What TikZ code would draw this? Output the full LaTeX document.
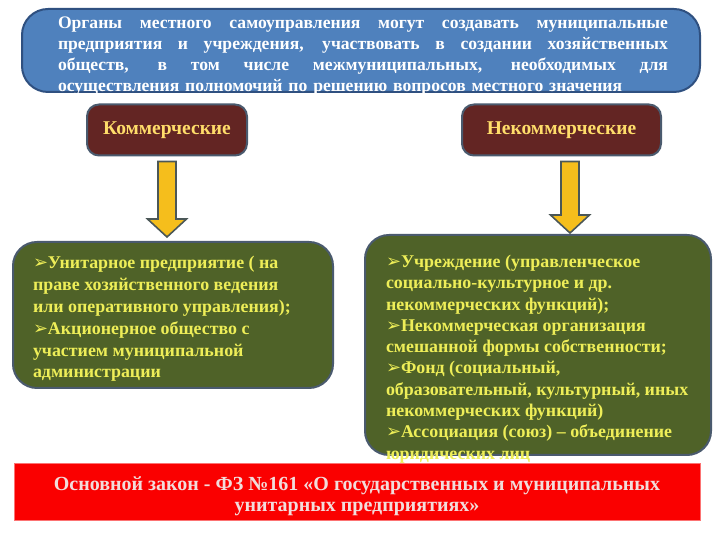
\documentclass[tikz,border=0pt]{standalone}
\usepackage{fontspec}
\setmainfont{Liberation Serif}
\newfontfamily\symfont{DejaVu Sans}
\usetikzlibrary{calc}
\definecolor{Sky}{HTML}{4F81BD}
\definecolor{SkyEdge}{HTML}{2F5080}
\definecolor{Wine}{HTML}{632523}
\definecolor{Moss}{HTML}{4F6228}
\definecolor{Steel}{HTML}{4A5A6E}
\definecolor{Gold}{HTML}{F5BE1C}
\definecolor{ArrowEdge}{HTML}{4B5757}
\definecolor{Sand}{HTML}{FFDD6A}
\definecolor{Lemon}{HTML}{EEEE58}
\definecolor{Signal}{HTML}{FA0000}
\definecolor{Blush}{HTML}{F2DCDB}
\newcommand{\bul}{{\symfont\char"27A2}}
\newcommand{\jline}[1]{\makebox[\hsize][s]{\spaceskip=0pt\xspaceskip=0pt\relax#1}}

\begin{document}
\begin{tikzpicture}[x=1pt,y=1pt,every node/.style={inner sep=0pt,outer sep=0pt},
  kindbox/.style={draw=Steel,line width=2pt,fill=Wine,rounded corners=12pt,minimum height=51pt,
    text=Sand,font=\bfseries\fontsize{19.5}{22}\selectfont},
  listbox/.style={draw=Steel,line width=2pt,fill=Moss,rounded corners=24pt},
  listtext/.style={anchor=north west,align=left,text=Lemon,font=\bfseries\fontsize{17.9}{#1}\selectfont},
  bigarrow/.style={draw=ArrowEdge,line width=1.6pt,fill=Gold,line join=miter}]
  \useasboundingbox (0,0) rectangle (720,540);
  \fill[white] (0,0) rectangle (720,540);

  \node[draw=SkyEdge,line width=2pt,fill=Sky,rounded corners=26pt,minimum width=678pt,minimum height=83pt] (head) at (361,489.5) {};
  \node[anchor=north west,text width=610pt,align=left,text=white,font=\bfseries\fontsize{17.6}{20.8}\selectfont] (headtext) at (58,523) {
    \jline{Органы местного самоуправления могут создавать муниципальные}\\
    \jline{предприятия и учреждения, участвовать в создании хозяйственных}\\
    \jline{обществ, в том числе межмуниципальных, необходимых для}\\
    осуществления полномочий по решению вопросов местного значения
  };

  \node[kindbox,minimum width=160pt] (kom) at (167,410) {Коммерческие};
  \node[kindbox,minimum width=199pt] (nekom) at (561.5,410) {Некоммерческие};

  \node[listbox,minimum width=320pt,minimum height=146pt] (kombox) at (173,225) {};
  \node[listbox,minimum width=346pt,minimum height=220pt] (nekombox) at (538,195) {};

  \node[listtext=21.9] (komtext) at (33,284) {
    \bul Унитарное предприятие ( на\\
    праве хозяйственного ведения\\
    или оперативного управления);\\
    \bul Акционерное общество с\\
    участием муниципальной\\
    администрации
  };
  \node[listtext=21.3] (nekomtext) at (386,285) {
    \bul Учреждение (управленческое\\
    социально-культурное и др.\\
    некоммерческих функций);\\
    \bul Некоммерческая организация\\
    смешанной формы собственности;\\
    \bul Фонд (социальный,\\
    образовательный, культурный, иных\\
    некоммерческих функций)\\
    \bul Ассоциация (союз) – объединение\\
    юридических лиц
  };

  \foreach \x/\y/\dx/\dy in {kom/kombox/0/5,nekom/nekombox/8.5/2}
    \draw[bigarrow] ($(\x.south)+(\dx-9,-6)$) -- ($(\x.south)+(\dx+9,-6)$)
      -- ($(\x.south |- \y.north)+(\dx+9,\dy+18)$) -- ($(\x.south |- \y.north)+(\dx+19.5,\dy+18)$)
      -- ($(\x.south |- \y.north)+(\dx,\dy)$)
      -- ($(\x.south |- \y.north)+(\dx-19.5,\dy+18)$) -- ($(\x.south |- \y.north)+(\dx-9,\dy+18)$) -- cycle;

  \node[draw=Signal!55,line width=1pt,fill=Signal,minimum width=686pt,minimum height=57pt] (law) at (357,48) {};
  \node[align=center,text=Blush,font=\bfseries\fontsize{20}{21}\selectfont] (lawtext) at ($(law.center)+(0,-4)$)
    {Основной закон - ФЗ №161 «О государственных и муниципальных\\унитарных предприятиях»};
\end{tikzpicture}
\end{document}
